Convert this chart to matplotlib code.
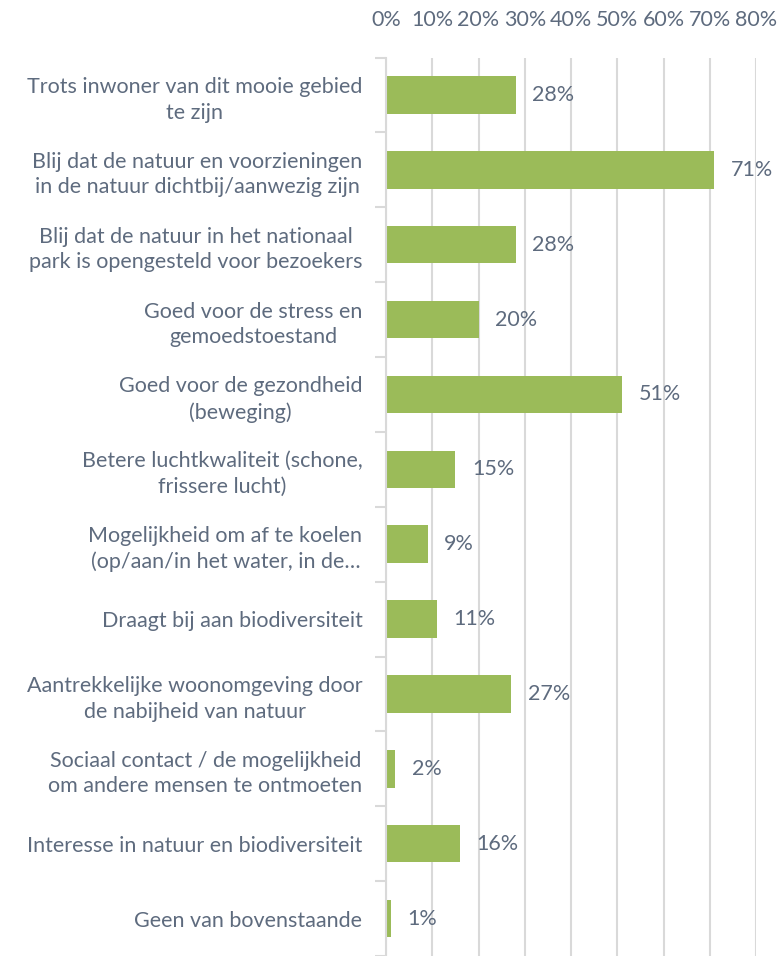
import matplotlib.pyplot as plt
from matplotlib.ticker import FixedLocator, PercentFormatter
import numpy as np

labels = [
    "Trots inwoner van dit mooie gebied\nte zijn",
    "Blij dat de natuur en voorzieningen\nin de natuur dichtbij/aanwezig zijn",
    "Blij dat de natuur in het nationaal\npark is opengesteld voor bezoekers",
    "Goed voor de stress en\ngemoedstoestand",
    "Goed voor de gezondheid\n(beweging)",
    "Betere luchtkwaliteit (schone,\nfrissere lucht)",
    "Mogelijkheid om af te koelen\n(op/aan/in het water, in de\u2026",
    "Draagt bij aan biodiversiteit",
    "Aantrekkelijke woonomgeving door\nde nabijheid van natuur",
    "Sociaal contact / de mogelijkheid\nom andere mensen te ontmoeten",
    "Interesse in natuur en biodiversiteit",
    "Geen van bovenstaande",
]
values = [28, 71, 28, 20, 51, 15, 9, 11, 27, 2, 16, 1]
xticks = [0, 10, 20, 30, 40, 50, 60, 70, 80]

bar_color = "#9BBB59"
text_color = "#5E6B7E"
grid_color = "#D9D9D9"

plt.rcParams['font.family'] = ['Lato', 'DejaVu Sans']

fig = plt.figure(figsize=(7.8, 9.56), dpi=100)
ax = fig.add_axes([386 / 780, 0, (756 - 386) / 780, (956 - 57.5) / 956])

y = np.arange(len(values))
ax.barh(y, values, height=0.5, color=bar_color, zorder=3)
ax.set_ylim(len(values) - 0.5, -0.5)
ax.set_xlim(0, 80)

ax.xaxis.tick_top()
ax.set_xticks(xticks)
ax.xaxis.set_major_formatter(PercentFormatter(decimals=0))
ax.tick_params(axis='x', length=0, pad=20, labelsize=15.5, labelcolor=text_color)
ax.grid(axis='x', color=grid_color, linewidth=1.5, zorder=0)

ax.set_yticks(y)
ax.set_yticklabels(labels, fontsize=15.5, color=text_color, ha='right',
                   multialignment='center', linespacing=1.35)
ax.tick_params(axis='y', which='major', length=0, pad=17)
ax.yaxis.set_minor_locator(FixedLocator(np.arange(-0.5, len(values), 1)))
ax.tick_params(axis='y', which='minor', length=8, width=1.5, color=grid_color)

for s in ['top', 'right', 'bottom']:
    ax.spines[s].set_visible(False)
ax.spines['left'].set_color(grid_color)
ax.spines['left'].set_linewidth(1.5)
ax.spines['left'].set_zorder(4)

for yi, v in zip(y, values):
    ax.annotate(f"{v}%", (v, yi), xytext=(12, 0), textcoords='offset points',
                va='center', ha='left', fontsize=15.5, color=text_color, zorder=5)

fig.savefig("out.png", dpi=100)
